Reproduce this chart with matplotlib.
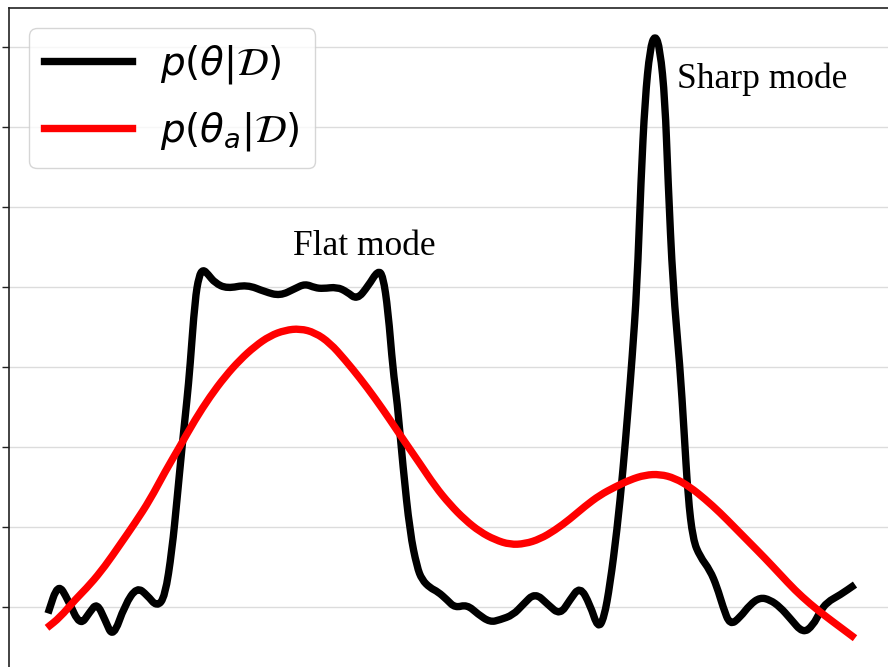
import numpy as np
import matplotlib
matplotlib.use("Agg")
import matplotlib.pyplot as plt
from matplotlib.path import Path
from matplotlib.patches import PathPatch
from matplotlib.lines import Line2D

# posterior over theta (black) and over augmented theta (red)
theta = [-4.02, -3.92, -3.82, -3.70, -3.60, -3.53, -3.45, -3.37, -3.25, -3.13,
         -3.03, -2.93, -2.85, -2.78, -2.73, -2.68, -2.63, -2.60, -2.55, -2.51,
         -2.47, -2.42, -2.35, -2.23, -2.03, -1.85, -1.70, -1.55, -1.45, -1.35,
         -1.27, -1.13, -1.03, -0.93, -0.82, -0.72, -0.67, -0.62, -0.57, -0.53,
         -0.47, -0.40, -0.33, -0.28, -0.20, -0.12, -0.03, 0.05, 0.17, 0.28,
         0.40, 0.50, 0.63, 0.73, 0.85, 0.98, 1.10, 1.20, 1.30, 1.40,
         1.48, 1.54, 1.60, 1.67, 1.73, 1.78, 1.82, 1.87, 1.91, 1.95,
         2.00, 2.05, 2.10, 2.15, 2.18, 2.23, 2.30, 2.34, 2.38, 2.43,
         2.50, 2.60, 2.67, 2.73, 2.80, 2.90, 3.00, 3.10, 3.20, 3.30,
         3.40, 3.53, 3.63, 3.70, 3.77, 3.90, 4.05]
density = [-0.08, 0.30, 0.09, -0.24, -0.06, 0.05, -0.16, -0.39, 0.03, 0.25,
           0.15, 0.00, 0.13, 0.71, 1.34, 2.00, 2.59, 3.00, 3.84, 4.14,
           4.22, 4.16, 4.05, 3.98, 4.03, 3.94, 3.89, 3.98, 4.04, 3.99,
           3.98, 4.00, 3.94, 3.84, 4.01, 4.21, 4.14, 3.71, 2.96, 2.59,
           1.75, 0.93, 0.50, 0.34, 0.24, 0.19, 0.09, -0.01, 0.03, -0.09,
           -0.19, -0.16, -0.10, 0.03, 0.18, 0.03, -0.10, 0.09, 0.26, 0.03,
           -0.27, -0.14, 0.28, 0.96, 1.71, 2.46, 3.09, 4.00, 5.34, 6.34,
           6.98, 7.16, 6.98, 6.34, 5.34, 4.00, 3.00, 2.21, 1.38, 0.84,
           0.63, 0.46, 0.25, 0.00, -0.23, -0.13, 0.03, 0.12, 0.09, 0.00,
           -0.14, -0.33, -0.23, -0.06, 0.06, 0.15, 0.28]

theta_a = [-4.03, -3.90, -3.75, -3.60, -3.45, -3.30, -3.15, -3.00, -2.85, -2.70,
           -2.55, -2.40, -2.25, -2.10, -1.95, -1.80, -1.65, -1.50, -1.35, -1.20,
           -1.05, -0.90, -0.75, -0.60, -0.45, -0.30, -0.15, 0.00, 0.15, 0.30,
           0.45, 0.60, 0.75, 0.90, 1.05, 1.20, 1.35, 1.50, 1.65, 1.80,
           1.95, 2.10, 2.25, 2.40, 2.55, 2.70, 2.85, 3.00, 3.15, 3.30,
           3.45, 3.60, 3.75, 3.90, 4.05]
density_a = [-0.26, -0.13, 0.09, 0.28, 0.51, 0.78, 1.05, 1.34, 1.69, 2.01,
             2.34, 2.63, 2.88, 3.09, 3.26, 3.39, 3.46, 3.48, 3.43, 3.30,
             3.09, 2.86, 2.61, 2.34, 2.06, 1.79, 1.51, 1.28, 1.09, 0.94,
             0.84, 0.78, 0.79, 0.85, 0.96, 1.10, 1.26, 1.40, 1.50, 1.59,
             1.65, 1.66, 1.61, 1.50, 1.35, 1.18, 0.99, 0.80, 0.61, 0.41,
             0.21, 0.04, -0.11, -0.25, -0.39]

grid_levels = [0, 1, 2, 3, 4, 5, 6, 7]


def smooth_path(xs, ys):
    # quadratic bezier through midpoints, the read points act as control points
    pts = np.column_stack([xs, ys])
    mids = (pts[:-1] + pts[1:]) / 2
    verts = [pts[0], mids[0]]
    codes = [Path.MOVETO, Path.LINETO]
    for i in range(1, len(pts) - 1):
        verts += [pts[i], mids[i]]
        codes += [Path.CURVE3, Path.CURVE3]
    verts.append(pts[-1])
    codes.append(Path.LINETO)
    return Path(verts, codes)


fig = plt.figure(figsize=(8.88, 6.67), dpi=100)
ax = fig.add_axes([9 / 888, 0, 879 / 888, 659 / 667])

lw = 5.3
for xs, ys, col in [(theta, density, 'black'), (theta_a, density_a, '#ff0000')]:
    ax.add_patch(PathPatch(smooth_path(xs, ys), facecolor='none', edgecolor=col,
                           lw=lw, joinstyle='round', capstyle='butt', zorder=3))

ax.set_xlim(-4.41, 4.38)
ax.set_ylim(-0.75, 7.4875)
ax.set_yticks(grid_levels)
ax.set_yticklabels([])
ax.set_xticks([])
ax.grid(axis='y', color='#dcdcdc', lw=1.0)
ax.set_axisbelow(True)
ax.tick_params(axis='y', length=5, width=1.0, color='#222222')

for side in ['right', 'bottom']:
    ax.spines[side].set_visible(False)
for side in ['left', 'top']:
    ax.spines[side].set_color('#222222')
    ax.spines[side].set_linewidth(1.2)

ax.text(-1.57, 4.40, 'Flat mode', family='Liberation Serif', fontsize=25.5,
        ha='left', va='baseline')
ax.text(2.27, 6.49, 'Sharp mode', family='Liberation Serif', fontsize=25.5,
        ha='left', va='baseline')

handles = [Line2D([], [], color='black', lw=lw),
           Line2D([], [], color='#ff0000', lw=lw)]
labels = [r'$p(\theta|\mathcal{D})$', r'$p(\theta_a|\mathcal{D})$']
ax.legend(handles, labels, loc='upper left', fontsize=28, handlelength=2.26,
          handletextpad=0.72, labelspacing=0.6, borderaxespad=0.51,
          borderpad=0.4, framealpha=0.8, edgecolor='#cccccc')

fig.savefig('out.png', dpi=100)
